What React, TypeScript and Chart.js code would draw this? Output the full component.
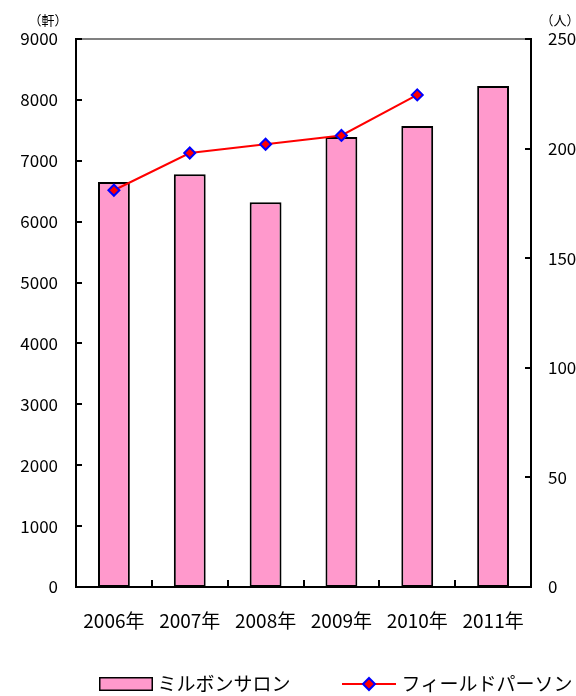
import React, { useEffect, useRef } from 'react';
import { Chart, registerables } from 'chart.js';

Chart.register(...registerables);

const categories = ['2006年', '2007年', '2008年', '2009年', '2010年', '2011年'];
const salonCounts = [6650, 6780, 6320, 7390, 7570, 8230];
const fieldPersons: (number | null)[] = [181, 198, 202, 206, 224.5, null];
const seriesNames = ['ミルボンサロン', 'フィールドパーソン'];
const leftUnit = '（軒）';
const rightUnit = '（人）';
const leftMax = 9000;
const leftStep = 1000;
const rightMax = 250;
const rightStep = 50;

const FONT = '"Noto Sans CJK JP", "Noto Sans", sans-serif';
const PINK = '#FF99CC';

function makeBoxImage(): HTMLCanvasElement {
  const c = document.createElement('canvas');
  c.width = 112;
  c.height = 20;
  const g = c.getContext('2d')!;
  g.fillStyle = PINK;
  g.fillRect(56, 3, 54, 14);
  g.strokeStyle = '#000';
  g.lineWidth = 1.5;
  g.strokeRect(56.75, 3.75, 52.5, 12.5);
  return c;
}

function makeLineImage(): HTMLCanvasElement {
  const c = document.createElement('canvas');
  c.width = 112;
  c.height = 20;
  const g = c.getContext('2d')!;
  g.strokeStyle = '#FF0000';
  g.lineWidth = 2;
  g.beginPath();
  g.moveTo(55, 10);
  g.lineTo(109, 10);
  g.stroke();
  g.beginPath();
  g.moveTo(82, 4);
  g.lineTo(88, 10);
  g.lineTo(82, 16);
  g.lineTo(76, 10);
  g.closePath();
  g.fillStyle = '#FF0000';
  g.fill();
  g.strokeStyle = '#0000FF';
  g.lineWidth = 2;
  g.stroke();
  return c;
}

const axisDecor = {
  id: 'axisDecor',
  afterDraw(chart: any) {
    const { ctx, chartArea, scales } = chart;
    const { left, right, top, bottom } = chartArea;
    ctx.save();
    ctx.lineCap = 'butt';
    // top frame line
    ctx.strokeStyle = '#808080';
    ctx.lineWidth = 2;
    ctx.beginPath();
    ctx.moveTo(left + 1, top);
    ctx.lineTo(right - 1, top);
    ctx.stroke();
    // inward tick marks
    ctx.strokeStyle = '#000';
    ctx.lineWidth = 2;
    ctx.beginPath();
    scales.y.ticks.forEach((t: any) => {
      const py = Math.round(scales.y.getPixelForValue(t.value));
      ctx.moveTo(left, py);
      ctx.lineTo(left + 6, py);
    });
    scales.y1.ticks.forEach((t: any) => {
      const py = Math.round(scales.y1.getPixelForValue(t.value));
      ctx.moveTo(right, py);
      ctx.lineTo(right - 6, py);
    });
    const xs = scales.x;
    for (let i = 0; i < categories.length - 1; i++) {
      const px = Math.round((xs.getPixelForTick(i) + xs.getPixelForTick(i + 1)) / 2);
      ctx.moveTo(px, bottom);
      ctx.lineTo(px, bottom - 7);
    }
    ctx.stroke();
    // unit labels
    ctx.fillStyle = '#000';
    ctx.font = '13px ' + FONT;
    ctx.textAlign = 'center';
    ctx.textBaseline = 'middle';
    ctx.fillText(leftUnit, left - 28, top - 19);
    ctx.fillText(rightUnit, right + 29, top - 19);
    ctx.restore();
  },
};

export default function App() {
  const ref = useRef<HTMLCanvasElement | null>(null);

  useEffect(() => {
    document.body.style.margin = '0';
    const canvas = ref.current;
    if (!canvas) return;
    const boxImg = makeBoxImage();
    const lineImg = makeLineImage();

    const chart = new Chart(canvas, {
      type: 'bar',
      data: {
        labels: categories,
        datasets: [
          {
            type: 'line',
            label: seriesNames[1],
            data: fieldPersons,
            yAxisID: 'y1',
            borderColor: '#FF0000',
            backgroundColor: '#FF0000',
            borderWidth: 2,
            pointStyle: 'rectRot',
            pointRadius: 5.5,
            pointBackgroundColor: '#FF0000',
            pointBorderColor: '#0000FF',
            pointBorderWidth: 2,
            tension: 0,
            spanGaps: false,
            order: 1,
          } as any,
          {
            type: 'bar',
            label: seriesNames[0],
            data: salonCounts,
            yAxisID: 'y',
            backgroundColor: PINK,
            borderColor: '#000',
            borderWidth: 2,
            borderSkipped: false,
            barPercentage: 0.42,
            categoryPercentage: 1,
            order: 2,
          },
        ],
      },
      options: {
        responsive: false,
        animation: false,
        devicePixelRatio: 1,
        layout: { padding: { top: 39, bottom: -7.5, left: 0, right: 0 } },
        plugins: {
          tooltip: { enabled: false },
          legend: {
            position: 'bottom',
            align: 'end',
            onClick: () => {},
            labels: {
              usePointStyle: true,
              pointStyleWidth: 98,
              padding: 3.5,
              color: '#000',
              font: { size: 19, family: FONT },
              generateLabels: () => [
                {
                  text: seriesNames[0],
                  pointStyle: boxImg,
                  fillStyle: PINK,
                  strokeStyle: '#000',
                  lineWidth: 0,
                  hidden: false,
                  datasetIndex: 1,
                  fontColor: '#000',
                } as any,
                {
                  text: seriesNames[1],
                  pointStyle: lineImg,
                  fillStyle: '#FF0000',
                  strokeStyle: '#0000FF',
                  lineWidth: 0,
                  hidden: false,
                  datasetIndex: 0,
                  fontColor: '#000',
                } as any,
              ],
            },
          },
        },
        scales: {
          x: {
            type: 'category',
            offset: true,
            grid: { display: false, drawTicks: false },
            border: { display: true, color: '#000', width: 2 },
            ticks: {
              color: '#000',
              font: { size: 19, family: FONT },
              padding: 22,
              maxRotation: 0,
              autoSkip: false,
            },
            afterFit: (s: any) => {
              s.height = 84;
            },
          },
          y: {
            type: 'linear',
            position: 'left',
            min: 0,
            max: leftMax,
            grid: { display: false, drawTicks: false },
            border: { display: true, color: '#000', width: 2 },
            ticks: {
              stepSize: leftStep,
              color: '#000',
              font: { size: 17, family: FONT },
              padding: 18,
              callback: (v: any) => String(v),
            },
            afterFit: (s: any) => {
              s.width = 76;
            },
          },
          y1: {
            type: 'linear',
            position: 'right',
            min: 0,
            max: rightMax,
            grid: { display: false, drawTicks: false },
            border: { display: true, color: '#000', width: 2 },
            ticks: {
              stepSize: rightStep,
              color: '#000',
              font: { size: 17, family: FONT },
              padding: 17,
              callback: (v: any) => String(v),
            },
            afterFit: (s: any) => {
              s.width = 45;
            },
          },
        },
      },
      plugins: [axisDecor],
    });

    return () => {
      chart.destroy();
    };
  }, []);

  return (
    <div style={{ width: 576, height: 696 }}>
      <canvas ref={ref} width={576} height={696} style={{ display: 'block' }} />
    </div>
  );
}
